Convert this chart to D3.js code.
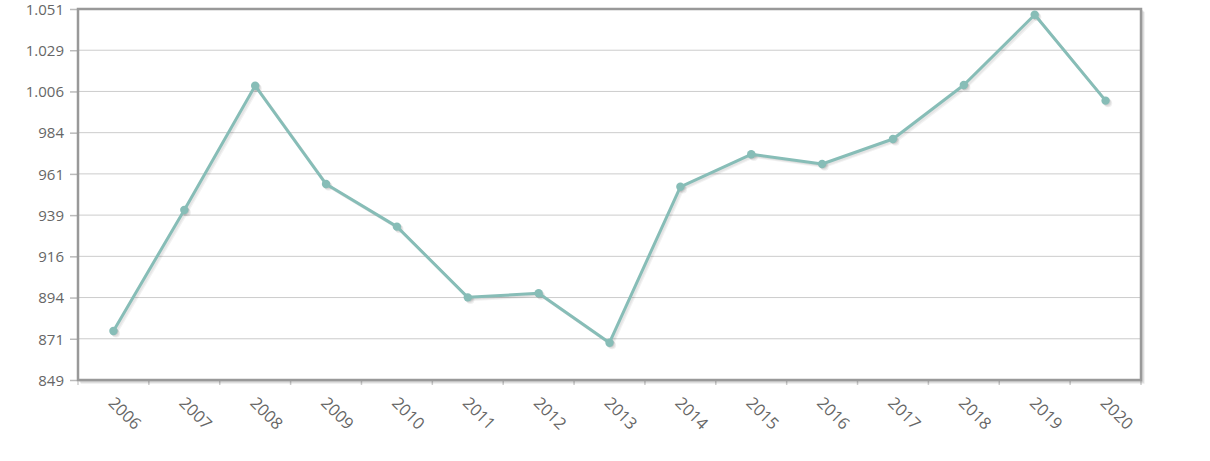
<!DOCTYPE html>
<html>
<head>
<meta charset="utf-8">
<script src="https://cdn.jsdelivr.net/npm/d3@7/dist/d3.min.js"></script>
<style>
  html, body { margin: 0; padding: 0; background: #fff; }
  svg { display: block; }
  text { font-family: "Open Sans", "Noto Sans", sans-serif; fill: #666; }
</style>
</head>
<body>
<svg id="chart" width="1210" height="461"></svg>
<script>
// ---- data ----
const years = ["2006","2007","2008","2009","2010","2011","2012","2013","2014","2015","2016","2017","2018","2019","2020"];
const values = [875.7, 941.6, 1009.2, 955.7, 932.5, 894.0, 896.2, 869.3, 954.2, 971.9, 966.6, 980.2, 1009.6, 1047.9, 1001.1];
const yMin = 849, yMax = 1051;
const yTickLabels = ["849","871","894","916","939","961","984","1.006","1.029","1.051"];

// ---- layout ----
const svg = d3.select("#chart");
const plot = { left: 78, right: 1141, top: 9, bottom: 380 };
const lineColor = "#87bdb7";

const x = d3.scaleBand().domain(years).range([plot.left, plot.right]);
const y = d3.scaleLinear().domain([yMin, yMax]).range([plot.bottom, plot.top]);
const yTicks = yTickLabels.map((_, i) => yMin + i * (yMax - yMin) / (yTickLabels.length - 1));

// grid lines
svg.append("g").selectAll("line").data(yTicks.slice(1, -1)).join("line")
  .attr("x1", plot.left).attr("x2", plot.right)
  .attr("y1", d => y(d)).attr("y2", d => y(d))
  .attr("stroke", "#cccccc").attr("stroke-width", 1);

// y axis tick marks + labels
const yAxis = d3.axisLeft(y).tickValues(yTicks).tickSize(8).tickPadding(6)
  .tickFormat((d, i) => yTickLabels[i]);
const gy = svg.append("g").attr("transform", `translate(${plot.left},0)`).call(yAxis);
gy.select(".domain").remove();
gy.selectAll(".tick line").attr("stroke", "#bbbbbb").attr("stroke-width", 1.5);
gy.selectAll(".tick text").style("font-size", "15px").attr("fill", "#5f5f5f").attr("dy", "0.35em")
  .style("font-family", "'Open Sans', sans-serif");

// x axis tick marks at band boundaries
const bounds = years.map(d => x(d)).concat([plot.right]);
svg.append("g").selectAll("line").data(bounds).join("line")
  .attr("x1", d => d).attr("x2", d => d)
  .attr("y1", plot.bottom).attr("y2", plot.bottom + 5)
  .attr("stroke", "#cccccc").attr("stroke-width", 1.5);

// x labels rotated
svg.append("g").selectAll("text").data(years).join("text")
  .attr("transform", d => `translate(${x(d) + x.bandwidth() / 2 - 6},${plot.bottom + 24}) rotate(45)`)
  .attr("text-anchor", "start")
  .attr("fill", "#5f5f5f")
  .style("font-size", "16.5px")
  .text(d => d);

// frame shadow
for (let k = 1; k <= 3; k++) {
  const o = 1.25 * k * Math.SQRT1_2;
  svg.append("path")
    .attr("d", `M${plot.right + o},${plot.top + o}L${plot.right + o},${plot.bottom + o}L${plot.left + o},${plot.bottom + o}`)
    .attr("fill", "none").attr("stroke", "rgba(0,0,0,0.08)").attr("stroke-width", 2);
}
// frame
svg.append("rect")
  .attr("x", plot.left).attr("y", plot.top)
  .attr("width", plot.right - plot.left).attr("height", plot.bottom - plot.top)
  .attr("fill", "none").attr("stroke", "#999999").attr("stroke-width", 2.5);

// line + markers
const pts = years.map((d, i) => [x(d) + x.bandwidth() / 2, y(values[i])]);
const line = d3.line();

// shadows
for (let k = 1; k <= 3; k++) {
  const o = 1.25 * k * Math.SQRT1_2;
  svg.append("path").attr("d", line(pts)).attr("transform", `translate(${o},${o})`)
    .attr("fill", "none").attr("stroke", "rgba(0,0,0,0.05)").attr("stroke-width", 2.5)
    .attr("stroke-linejoin", "round");
  svg.append("g").attr("transform", `translate(${o},${o})`).selectAll("circle").data(pts).join("circle")
    .attr("cx", d => d[0]).attr("cy", d => d[1]).attr("r", 4)
    .attr("fill", "rgba(0,0,0,0.06)");
}
svg.append("path").attr("d", line(pts))
  .attr("fill", "none").attr("stroke", lineColor).attr("stroke-width", 3)
  .attr("stroke-linejoin", "round");
svg.append("g").selectAll("circle").data(pts).join("circle")
  .attr("cx", d => d[0]).attr("cy", d => d[1]).attr("r", 4.2)
  .attr("fill", lineColor);
</script>
</body>
</html>
